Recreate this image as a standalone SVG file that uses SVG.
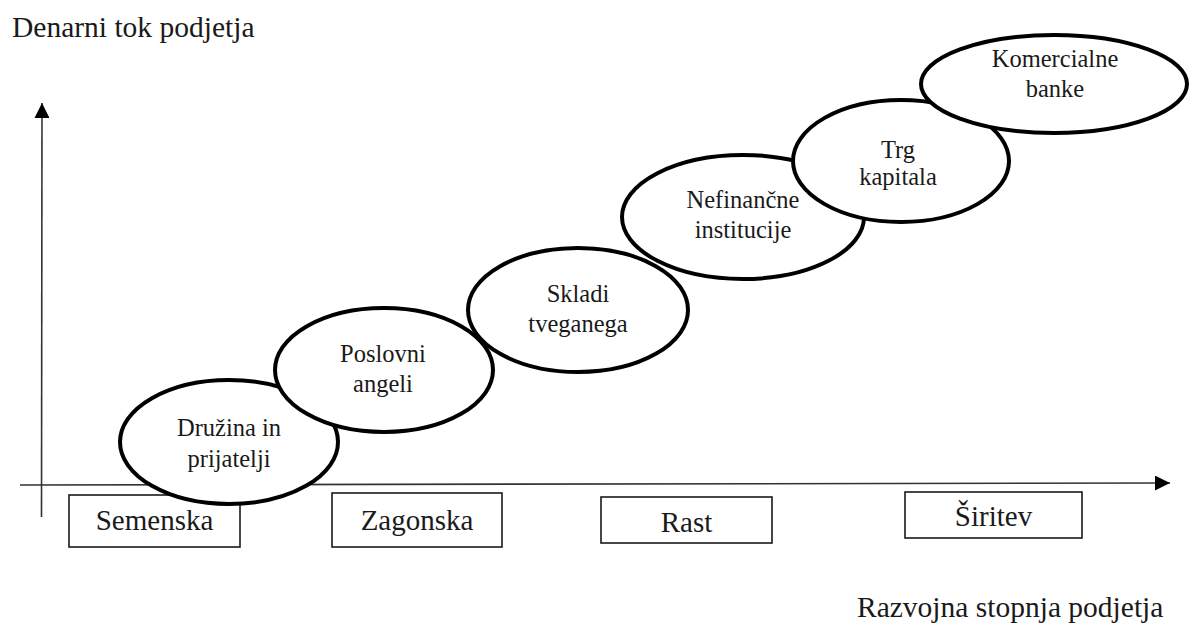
<svg xmlns="http://www.w3.org/2000/svg" width="1192" height="630" viewBox="0 0 1192 630">
  <style>
    .lbl { font-family: 'Liberation Serif', 'DejaVu Serif', serif; fill: #1a1a1a; }
    .axis-title { font-size: 29.5px; }
    .stage text { font-size: 29px; text-anchor: middle; }
    .stage rect { fill: #ffffff; stroke: #1a1a1a; stroke-width: 1.6; }
    .source ellipse { fill: #ffffff; stroke: #000000; stroke-width: 4; }
    .source text { font-size: 24.5px; text-anchor: middle; }
    .axis { stroke: #333333; stroke-width: 1.6; fill: none; }
  </style>
  <defs>
    <marker id="arrowBig" viewBox="0 0 15 15" refX="15" refY="7.5" markerWidth="15" markerHeight="15" markerUnits="userSpaceOnUse" orient="auto">
      <path d="M0,0 L15,7.5 L0,15 Z" fill="#000000"/>
    </marker>
  </defs>

  <rect width="1192" height="630" fill="#ffffff"/>

  <!-- axis titles -->
  <text class="lbl axis-title" x="12" y="37" font-family="Liberation Serif, serif">Denarni tok podjetja</text>
  <text class="lbl axis-title" x="857" y="617" font-family="Liberation Serif, serif">Razvojna stopnja podjetja</text>

  <!-- axes -->
  <g id="connectors">
    <line class="axis" x1="41.5" y1="517" x2="42" y2="103" marker-end="url(#arrowBig)"/>
    <line class="axis" x1="20" y1="485" x2="1170" y2="483" marker-end="url(#arrowBig)"/>
  </g>

  <!-- development stages -->
  <g id="stage-semenska" class="stage">
    <rect x="69" y="495" width="171" height="52"/>
    <text class="lbl" x="154.5" y="530">Semenska</text>
  </g>
  <g id="stage-zagonska" class="stage">
    <rect x="332" y="493" width="170" height="54"/>
    <text class="lbl" x="417" y="530">Zagonska</text>
  </g>
  <g id="stage-rast" class="stage">
    <rect x="601" y="497" width="171" height="46"/>
    <text class="lbl" x="686.5" y="532">Rast</text>
  </g>
  <g id="stage-siritev" class="stage">
    <rect x="905" y="492" width="177" height="46"/>
    <text class="lbl" x="993.5" y="526">Širitev</text>
  </g>

  <!-- financing sources -->
  <g id="source-druzina" class="source">
    <ellipse cx="229" cy="442" rx="109" ry="62"/>
    <text class="lbl" x="229" y="436">Družina in</text>
    <text class="lbl" x="229" y="467">prijatelji</text>
  </g>
  <g id="source-angeli" class="source">
    <ellipse cx="384" cy="370" rx="109" ry="62"/>
    <text class="lbl" x="383" y="362">Poslovni</text>
    <text class="lbl" x="383" y="392">angeli</text>
  </g>
  <g id="source-skladi" class="source">
    <ellipse cx="578" cy="310" rx="110" ry="62"/>
    <text class="lbl" x="578" y="302">Skladi</text>
    <text class="lbl" x="578" y="332">tveganega</text>
  </g>
  <g id="source-nefinancne" class="source">
    <ellipse cx="743" cy="217" rx="121" ry="62"/>
    <text class="lbl" x="743" y="208">Nefinančne</text>
    <text class="lbl" x="743" y="238">institucije</text>
  </g>
  <g id="source-trg" class="source">
    <ellipse cx="901" cy="161" rx="108" ry="61"/>
    <text class="lbl" x="898" y="158">Trg</text>
    <text class="lbl" x="898" y="185">kapitala</text>
  </g>
  <g id="source-banke" class="source">
    <ellipse cx="1054" cy="84" rx="133" ry="49"/>
    <text class="lbl" x="1055" y="67">Komercialne</text>
    <text class="lbl" x="1055" y="97">banke</text>
  </g>
</svg>
